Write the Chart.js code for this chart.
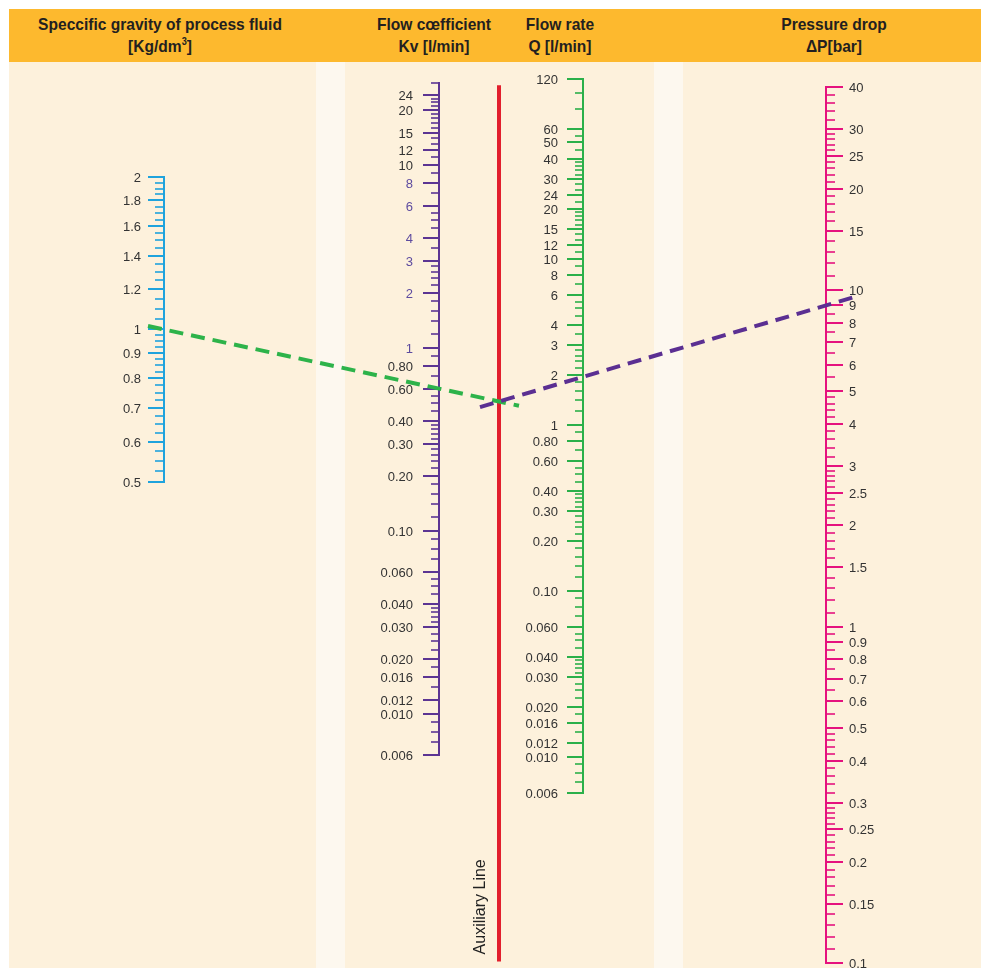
<!DOCTYPE html>
<html>
<head>
<meta charset="utf-8">
<title>Flow coefficient nomogram</title>
<script src="https://cdn.jsdelivr.net/npm/chart.js@4.4.0/dist/chart.umd.min.js"></script>
<style>
    html, body { margin: 0; padding: 0; background: #ffffff; }
    #wrap { position: relative; width: 981px; height: 968px; overflow: hidden; }
    .panel { position: absolute; top: 62px; bottom: 0; background: #fdf1dc; }
    .panel.light { background: #fdf8ef; }
    #header { position: absolute; left: 9px; top: 9px; right: 0; height: 53px; background: #fdb92e; }
    .title {
        position: absolute; top: 14px; transform: translateX(-50%) scaleX(0.915);
        text-align: center; white-space: nowrap; color: #231f20;
        font-family: "Liberation Sans", Arial, sans-serif;
        font-weight: bold; font-size: 17px; line-height: 22px;
    }
    #nomogram { position: absolute; left: 0; top: 0; }
</style>
</head>
<body>
<div id="wrap">
    <div class="panel" style="left:9px;width:307px"></div>
    <div class="panel light" style="left:316px;width:29px"></div>
    <div class="panel" style="left:345px;width:309px"></div>
    <div class="panel light" style="left:654px;width:29px"></div>
    <div class="panel" style="left:683px;right:0"></div>
    <canvas id="nomogram" width="981" height="968"></canvas>
    <div id="header"></div>
    <div class="title" style="left:160px">Speccific gravity of process fluid<br>[Kg/dm<sup style="font-size:10px;line-height:0">3</sup>]</div>
    <div class="title" style="left:434px">Flow cœfficient<br>Kv [l/min]</div>
    <div class="title" style="left:560px">Flow rate<br>Q [l/min]</div>
    <div class="title" style="left:834px">Pressure drop<br>ΔP[bar]</div>
</div>

<script>
// Scale values
const sgLabels = [2, 1.8, 1.6, 1.4, 1.2, 1, 0.9, 0.8, 0.7, 0.6, 0.5];
const sgLabelText = ['2', '1.8', '1.6', '1.4', '1.2', '1', '0.9', '0.8', '0.7', '0.6', '0.5'];
const sgMinorSteps = [[1, 2, 0.05], [0.5, 1, 0.025]];

const kvLabels = [24, 20, 15, 12, 10, 8, 6, 4, 3, 2, 1, 0.8, 0.6, 0.4, 0.3, 0.2, 0.1,
    0.06, 0.04, 0.03, 0.02, 0.016, 0.012, 0.01, 0.006];
const kvLabelText = ['24', '20', '15', '12', '10', '8', '6', '4', '3', '2', '1', '0.80', '0.60',
    '0.40', '0.30', '0.20', '0.10', '0.060', '0.040', '0.030', '0.020', '0.016', '0.012', '0.010', '0.006'];
const kvAccentLabels = [8, 6, 4, 3, 2, 1];
const kvMinorSteps = [[24, 28, 4], [10, 24, 1], [6, 10, 1], [3, 6, 0.5], [1, 3, 0.2], [0.6, 1, 0.1],
    [0.4, 0.6, 0.05], [0.1, 0.4, 0.02], [0.06, 0.1, 0.01], [0.04, 0.06, 0.005],
    [0.03, 0.04, 0.002], [0.02, 0.03, 0.0025], [0.01, 0.02, 0.002], [0.006, 0.01, 0.001]];

const qLabels = [120, 60, 50, 40, 30, 24, 20, 15, 12, 10, 8, 6, 4, 3, 2, 1, 0.8, 0.6, 0.4, 0.3,
    0.2, 0.1, 0.06, 0.04, 0.03, 0.02, 0.016, 0.012, 0.01, 0.006];
const qLabelText = ['120', '60', '50', '40', '30', '24', '20', '15', '12', '10', '8', '6', '4', '3',
    '2', '1', '0.80', '0.60', '0.40', '0.30', '0.20', '0.10', '0.060', '0.040', '0.030', '0.020',
    '0.016', '0.012', '0.010', '0.006'];
const qMinorSteps = [[60, 120, 20], [40, 60, 5], [20, 40, 2], [10, 20, 1], [6, 10, 1], [3, 6, 0.5],
    [1, 3, 0.2], [0.6, 1, 0.1], [0.4, 0.6, 0.05], [0.1, 0.4, 0.02], [0.06, 0.1, 0.01],
    [0.04, 0.06, 0.005], [0.03, 0.04, 0.002], [0.02, 0.03, 0.0025], [0.01, 0.02, 0.002], [0.006, 0.01, 0.001]];

const dpLabels = [40, 30, 25, 20, 15, 10, 9, 8, 7, 6, 5, 4, 3, 2.5, 2, 1.5, 1, 0.9, 0.8, 0.7, 0.6,
    0.5, 0.4, 0.3, 0.25, 0.2, 0.15, 0.1];
const dpLabelText = ['40', '30', '25', '20', '15', '10', '9', '8', '7', '6', '5', '4', '3', '2.5', '2',
    '1.5', '1', '0.9', '0.8', '0.7', '0.6', '0.5', '0.4', '0.3', '0.25', '0.2', '0.15', '0.1'];
const dpMinorSteps = [[30, 40, 2], [10, 30, 1], [5, 9, 0.5], [3, 5, 0.2], [2, 3, 0.1], [1, 2, 0.1],
    [0.5, 1, 0.05], [0.3, 0.5, 0.02], [0.1, 0.3, 0.01]];

// Worked example drawn on the chart
const sgReading = 1.0;   // specific gravity
const kvReading = 0.6;   // flow coefficient
const dpReading = 9;     // pressure drop

// Horizontal placement of each column (x scale runs 0..981)
const columnX = { sg: 164, kv: 439, aux: 499, q: 583, dp: 826 };

const axisStyles = {
    sg: { color: '#1fa3dd', side: 'left', majorLen: 16, minorLen: 9, gap: 7 },
    kv: { color: '#5c3593', side: 'left', majorLen: 16, minorLen: 8, gap: 10 },
    q:  { color: '#2bb04a', side: 'left', majorLen: 16, minorLen: 8, gap: 9 },
    dp: { color: '#e5127e', side: 'right', majorLen: 17, minorLen: 9, gap: 6 }
};

// Expand [from, to, step] ranges into minor tick values, skipping labelled ones
function minorTicks(steps, labels) {
    const out = [];
    steps.forEach(([lo, hi, step]) => {
        const n = Math.round((hi - lo) / step);
        for (let i = 1; i < n; i++) {
            const v = +(lo + i * step).toFixed(6);
            if (!labels.some(l => Math.abs(l - v) < 1e-9)) out.push(v);
        }
        if (!labels.includes(hi)) out.push(hi);
    });
    return out;
}

const axes = [
    { id: 'sg', labels: sgLabels, text: sgLabelText, minor: minorTicks(sgMinorSteps, sgLabels) },
    { id: 'kv', labels: kvLabels, text: kvLabelText, minor: minorTicks(kvMinorSteps, kvLabels), accent: kvAccentLabels },
    { id: 'q', labels: qLabels, text: qLabelText, minor: minorTicks(qMinorSteps, qLabels) },
    { id: 'dp', labels: dpLabels, text: dpLabelText, minor: minorTicks(dpMinorSteps, dpLabels) }
];

function drawAxis(ctx, scale, x, axis) {
    const st = axisStyles[axis.id];
    const dir = st.side === 'right' ? 1 : -1;
    const all = axis.labels.concat(axis.minor);
    const yTop = Math.round(scale.getPixelForValue(Math.max(...all)));
    const yBot = Math.round(scale.getPixelForValue(Math.min(...all)));

    ctx.save();
    ctx.strokeStyle = st.color;
    ctx.lineWidth = 2;
    ctx.beginPath();
    ctx.moveTo(x, yTop - 1);
    ctx.lineTo(x, yBot + 1);
    ctx.stroke();

    ctx.lineWidth = 1.6;
    axis.minor.forEach(v => {
        const y = Math.round(scale.getPixelForValue(v));
        ctx.beginPath();
        ctx.moveTo(x, y);
        ctx.lineTo(x + dir * st.minorLen, y);
        ctx.stroke();
    });

    ctx.lineWidth = 2;
    ctx.font = '13px "Liberation Sans", Arial, sans-serif';
    ctx.textAlign = dir < 0 ? 'right' : 'left';
    ctx.textBaseline = 'middle';
    axis.labels.forEach((v, i) => {
        const y = Math.round(scale.getPixelForValue(v));
        ctx.beginPath();
        ctx.moveTo(x, y);
        ctx.lineTo(x + dir * st.majorLen, y);
        ctx.stroke();
        ctx.fillStyle = axis.accent && axis.accent.includes(v) ? '#5d4b9f' : '#333333';
        ctx.fillText(axis.text[i], x + dir * (st.majorLen + st.gap), y + 1);
    });
    ctx.restore();
}

function drawDashed(ctx, x0, y0, x1, y1, fromX, toX, color) {
    const slope = (y1 - y0) / (x1 - x0);
    ctx.save();
    ctx.strokeStyle = color;
    ctx.lineWidth = 4;
    ctx.setLineDash([14, 8]);
    ctx.beginPath();
    ctx.moveTo(fromX, y0 + (fromX - x0) * slope);
    ctx.lineTo(toX, y0 + (toX - x0) * slope);
    ctx.stroke();
    ctx.restore();
}

const nomogramPlugin = {
    id: 'nomogram',
    afterDraw(chart) {
        const ctx = chart.ctx;
        const xs = chart.scales.x;
        const px = id => xs.getPixelForValue(columnX[id]);

        axes.forEach(a => drawAxis(ctx, chart.scales[a.id], px(a.id), a));

        // Auxiliary line spans the pressure-drop range
        const dp = chart.scales.dp;
        const auxX = px('aux');
        ctx.save();
        ctx.strokeStyle = '#e21f2d';
        ctx.lineWidth = 4;
        ctx.beginPath();
        ctx.moveTo(auxX, dp.getPixelForValue(dpLabels[0]) - 2);
        ctx.lineTo(auxX, dp.getPixelForValue(dpLabels[dpLabels.length - 1]) - 2);
        ctx.stroke();
        ctx.translate(auxX - 18, dp.getPixelForValue(dpLabels[dpLabels.length - 1]) - 9);
        ctx.rotate(-Math.PI / 2);
        ctx.fillStyle = '#222222';
        ctx.font = '16px "Liberation Sans", Arial, sans-serif';
        ctx.textAlign = 'left';
        ctx.textBaseline = 'middle';
        ctx.fillText('Auxiliary Line', 0, 0);
        ctx.restore();

        // SG -> Kv gives the point on the auxiliary line
        const sgX = px('sg'), sgY = chart.scales.sg.getPixelForValue(sgReading);
        const kvX = px('kv'), kvY = chart.scales.kv.getPixelForValue(kvReading);
        const auxY = sgY + (auxX - sgX) * (kvY - sgY) / (kvX - sgX);
        drawDashed(ctx, sgX, sgY, kvX, kvY, sgX - 16, auxX + 20, '#2db34a');

        // Auxiliary point -> pressure drop crosses the flow-rate scale
        const dpX = px('dp'), dpY = dp.getPixelForValue(dpReading);
        drawDashed(ctx, auxX, auxY, dpX, dpY, auxX - 19, dpX + 34, '#5b2f92');
    }
};

window.addEventListener('DOMContentLoaded', () => {
    const ctx = document.getElementById('nomogram').getContext('2d');
    new Chart(ctx, {
        type: 'scatter',
        data: { datasets: [] },
        options: {
            responsive: false,
            animation: false,
            events: [],
            layout: { padding: 0 },
            plugins: { legend: { display: false }, tooltip: { enabled: false } },
            scales: {
                x:  { type: 'linear', display: false, min: 0, max: 981, bounds: 'data' },
                sg: { type: 'logarithmic', axis: 'y', display: false, bounds: 'data', min: 0.05459, max: 4.484 },
                kv: { type: 'logarithmic', axis: 'y', display: false, bounds: 'data', min: 0.0004093, max: 79.72 },
                q:  { type: 'logarithmic', axis: 'y', display: false, bounds: 'data', min: 0.000532, max: 360.8 },
                dp: { type: 'logarithmic', axis: 'y', display: false, bounds: 'data', min: 0.0969, max: 72.67 }
            }
        },
        plugins: [nomogramPlugin]
    });
});
</script>
</body>
</html>
